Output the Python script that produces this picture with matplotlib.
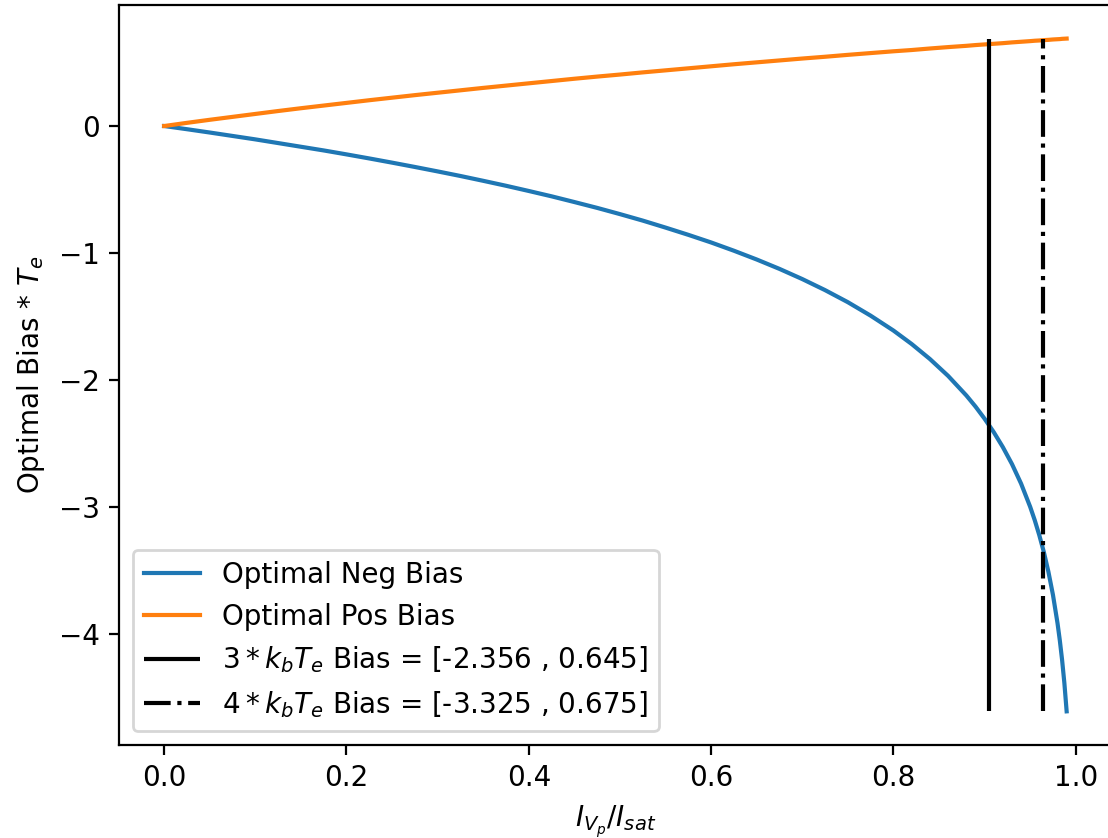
import matplotlib
matplotlib.use("Agg")
from matplotlib import pyplot as plt

# current ratio I_Vp / I_sat
ratio = [0.0, 0.025, 0.05, 0.075, 0.10, 0.125, 0.15, 0.175, 0.20, 0.225, 0.25,
         0.275, 0.30, 0.325, 0.35, 0.375, 0.40, 0.425, 0.45, 0.475, 0.50,
         0.525, 0.55, 0.575, 0.60, 0.625, 0.65, 0.675, 0.70, 0.725, 0.75,
         0.775, 0.80, 0.82, 0.84, 0.86, 0.88, 0.89, 0.90, 0.91, 0.92, 0.93,
         0.94, 0.95, 0.955, 0.96, 0.965, 0.97, 0.975, 0.98, 0.9825, 0.985,
         0.9875, 0.99]
neg_bias = [0.0, -0.025, -0.051, -0.078, -0.105, -0.134, -0.163, -0.192, -0.223,
            -0.255, -0.288, -0.322, -0.357, -0.393, -0.431, -0.470, -0.511,
            -0.553, -0.598, -0.644, -0.693, -0.744, -0.799, -0.856, -0.916,
            -0.981, -1.050, -1.124, -1.204, -1.291, -1.386, -1.492, -1.609,
            -1.715, -1.833, -1.966, -2.120, -2.207, -2.303, -2.408, -2.526,
            -2.659, -2.813, -2.996, -3.101, -3.219, -3.352, -3.507, -3.689,
            -3.912, -4.046, -4.200, -4.382, -4.605]
pos_bias = [0.0, 0.025, 0.049, 0.072, 0.095, 0.118, 0.140, 0.161, 0.182, 0.203,
            0.223, 0.243, 0.262, 0.281, 0.300, 0.318, 0.336, 0.354, 0.372,
            0.389, 0.405, 0.422, 0.438, 0.454, 0.470, 0.486, 0.501, 0.516,
            0.531, 0.545, 0.560, 0.574, 0.588, 0.598, 0.610, 0.621, 0.631,
            0.637, 0.642, 0.647, 0.652, 0.658, 0.663, 0.668, 0.671, 0.673,
            0.676, 0.678, 0.681, 0.683, 0.684, 0.686, 0.687, 0.688]

# k_b T_e multiples and the ratio where they sit
kt_mult = [3, 4]
kt_ratio = [0.905, 0.964]
kt_bias = [[-2.356, 0.645], [-3.325, 0.675]]
kt_style = ['-', '-.']

fig = plt.figure(figsize=(1108 / 200, 838 / 200), dpi=200)
ax = fig.add_axes([0.1074, 0.1110, 0.896, 0.8831])

ax.plot(ratio, neg_bias, label='Optimal Neg Bias')
ax.plot(ratio, pos_bias, label='Optimal Pos Bias')
for m, xv, b, ls in zip(kt_mult, kt_ratio, kt_bias, kt_style):
    ax.vlines(xv, min(neg_bias), max(pos_bias), colors='black', linestyles=ls,
              label=f'${m}*k_bT_e$ Bias = [{b[0]} , {b[1]}]')

ax.set_xlabel('$I_{V_p}/I_{sat}$')
ax.set_ylabel(r'Optimal Bias $*\ T_e$')
ax.legend(loc='lower left')

fig.savefig('out.png', dpi=200)
